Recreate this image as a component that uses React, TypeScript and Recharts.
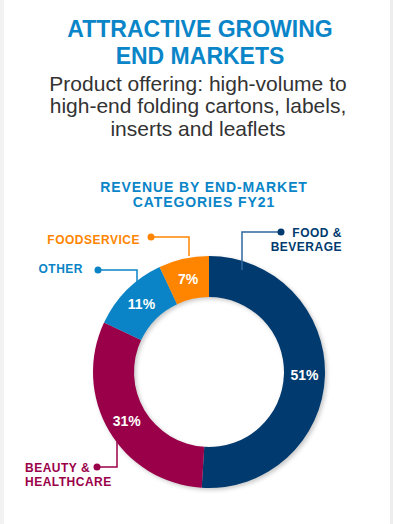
import React from 'react';
import { PieChart, Pie, Cell } from 'recharts';

const categories = ['FOOD & BEVERAGE', 'BEAUTY & HEALTHCARE', 'OTHER', 'FOODSERVICE'];
const shares = [51, 31, 11, 7];
const labelLines = [['FOOD &', 'BEVERAGE'], ['BEAUTY &', 'HEALTHCARE'], ['OTHER'], ['FOODSERVICE']];
const titleLines = ['ATTRACTIVE GROWING', 'END MARKETS'];
const subtitleLines = ['Product offering: high-volume to', 'high-end folding cartons, labels,', 'inserts and leaflets'];
const chartTitleLines = ['REVENUE BY END-MARKET', 'CATEGORIES FY21'];

const colors = ['#003A6E', '#9A0049', '#0A84C6', '#FF8500'];
const lineColors = ['#2F67A0', '#9A0049', '#0A84C6', '#FF8500'];
const FONT = '"Liberation Sans", Arial, Helvetica, sans-serif';

// callout layout relative to pie centre
const callouts = [
  { anchor: [33, -102], elbow: [33, -140], dot: [72, -140], tx: 133, ta: 'end', ty: [-135.5, -121.5] },
  { anchor: [-92, 70], elbow: [-92, 95], dot: [-112, 95], tx: -184, ta: 'start', ty: [99.5, 113.5] },
  { anchor: [-72, -90], elbow: [-72, -102], dot: [-111, -102], tx: -126, ta: 'end', ty: [-99] },
  { anchor: [-20, -116], elbow: [-20, -135], dot: [-58, -135], tx: -69, ta: 'end', ty: [-128] },
];

const data = categories.map((name, i) => ({ name, value: shares[i] }));

const RAD = Math.PI / 180;

const renderLabel = (props: any) => {
  const { cx, cy, midAngle, innerRadius, outerRadius, index, value } = props;
  const r = (innerRadius + outerRadius) / 2;
  const x = cx + r * Math.cos(-midAngle * RAD);
  const y = cy + r * Math.sin(-midAngle * RAD);
  const c = callouts[index];
  const col = colors[index];
  const lc = lineColors[index];
  return (
    <g key={`lbl-${index}`}>
      <polyline
        points={`${cx + c.anchor[0]},${cy + c.anchor[1]} ${cx + c.elbow[0]},${cy + c.elbow[1]} ${cx + c.dot[0]},${cy + c.dot[1]}`}
        fill="none"
        stroke={lc}
        strokeWidth={1.5}
      />
      <circle cx={cx + c.dot[0]} cy={cy + c.dot[1]} r={3.5} fill={col} />
      {labelLines[index].map((t, j) => (
        <text
          key={j}
          x={cx + c.tx}
          y={cy + c.ty[j]}
          textAnchor={c.ta}
          fill={col}
          fontFamily={FONT}
          fontWeight={700}
          fontSize={12}
          letterSpacing={0.5}
        >
          {t}
        </text>
      ))}
      <text
        x={x}
        y={y}
        textAnchor="middle"
        dominantBaseline="central"
        fill="#FFFFFF"
        fontFamily={FONT}
        fontWeight={700}
        fontSize={14}
      >
        {`${value}%`}
      </text>
    </g>
  );
};

export default function App() {
  return (
    <div style={{ position: 'absolute', left: 0, top: 0, width: 393, height: 524, background: '#fff', overflow: 'hidden' }}>
      <svg width={393} height={524} style={{ position: 'absolute', left: 0, top: 0 }}>
        <defs>
          <filter id="ringShadow" x="-20%" y="-20%" width="140%" height="140%">
            <feGaussianBlur stdDeviation="2" />
          </filter>
        </defs>
        <rect x={0} y={0} width={4} height={524} fill="#F2F2F2" />
        <rect x={390} y={0} width={3} height={524} fill="#EDEDED" />
        <circle cx={211} cy={374} r={95.5} fill="none" stroke="#000" strokeOpacity={0.22} strokeWidth={41} filter="url(#ringShadow)" />
        {titleLines.map((t, i) => (
          <text key={t} x={200} y={37 + i * 26.5} textAnchor="middle" fill="#0A85C8" fontFamily={FONT} fontWeight={700} fontSize={23}>
            {t}
          </text>
        ))}
        {subtitleLines.map((t, i) => (
          <text key={t} x={198} y={90.5 + i * 22.6} textAnchor="middle" fill="#333333" fontFamily={FONT} fontSize={21}>
            {t}
          </text>
        ))}
        {chartTitleLines.map((t, i) => (
          <text key={t} x={204} y={191.5 + i * 15.5} textAnchor="middle" fill="#0A85C8" fontFamily={FONT} fontWeight={700} fontSize={14} letterSpacing={0.9}>
            {t}
          </text>
        ))}
      </svg>
      <div style={{ position: 'absolute', left: 0, top: 0 }}>
        <PieChart width={393} height={524} margin={{ top: 0, right: 0, bottom: 0, left: 0 }}>
          <Pie
            data={data}
            dataKey="value"
            nameKey="name"
            cx={209}
            cy={372}
            innerRadius={75}
            outerRadius={116}
            startAngle={90}
            endAngle={-270}
            stroke="none"
            isAnimationActive={false}
            labelLine={false}
            label={renderLabel}
          >
            {data.map((d, i) => (
              <Cell key={d.name} fill={colors[i]} />
            ))}
          </Pie>
        </PieChart>
      </div>
    </div>
  );
}
